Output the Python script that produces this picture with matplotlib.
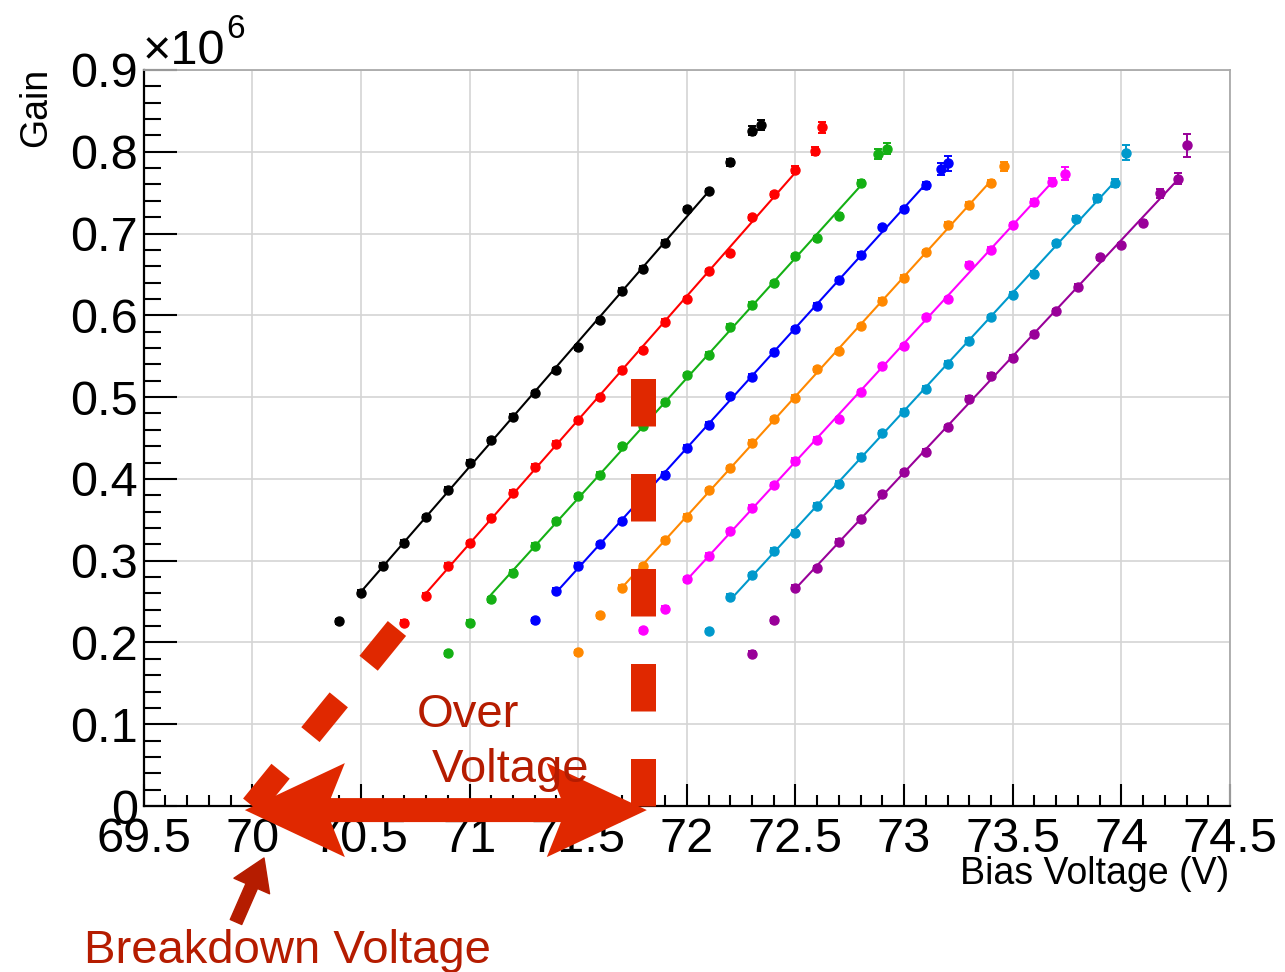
import numpy as np
import matplotlib
matplotlib.use('Agg')
import matplotlib.pyplot as plt
from matplotlib.patches import Polygon
from matplotlib.transforms import IdentityTransform

plt.rcParams['font.family'] = ['Liberation Sans', 'DejaVu Sans']

# gain (x10^6) vs bias voltage for the 8 channels
v_black = [70.4, 70.5, 70.6, 70.7, 70.8, 70.9, 71.0, 71.1, 71.2, 71.3, 71.4, 71.5, 71.6, 71.7, 71.8, 71.9, 72.0, 72.1, 72.2, 72.3, 72.34]
g_black = [0.226, 0.261, 0.294, 0.322, 0.353, 0.387, 0.420, 0.447, 0.476, 0.505, 0.533, 0.561, 0.594, 0.630, 0.657, 0.689, 0.730, 0.752, 0.787, 0.826, 0.833]

v_red = [70.7, 70.8, 70.9, 71.0, 71.1, 71.2, 71.3, 71.4, 71.5, 71.6, 71.7, 71.8, 71.9, 72.0, 72.1, 72.2, 72.3, 72.4, 72.5, 72.59, 72.62]
g_red = [0.224, 0.257, 0.294, 0.321, 0.352, 0.383, 0.415, 0.443, 0.472, 0.500, 0.533, 0.557, 0.592, 0.620, 0.654, 0.676, 0.720, 0.748, 0.778, 0.801, 0.830]

v_green = [70.9, 71.0, 71.1, 71.2, 71.3, 71.4, 71.5, 71.6, 71.7, 71.8, 71.9, 72.0, 72.1, 72.2, 72.3, 72.4, 72.5, 72.6, 72.7, 72.8, 72.88, 72.92]
g_green = [0.187, 0.224, 0.253, 0.285, 0.318, 0.348, 0.379, 0.405, 0.440, 0.465, 0.494, 0.527, 0.552, 0.586, 0.613, 0.639, 0.672, 0.694, 0.722, 0.762, 0.797, 0.804]

v_blue = [71.3, 71.4, 71.5, 71.6, 71.7, 71.8, 71.9, 72.0, 72.1, 72.2, 72.3, 72.4, 72.5, 72.6, 72.7, 72.8, 72.9, 73.0, 73.1, 73.17, 73.2]
g_blue = [0.227, 0.263, 0.294, 0.320, 0.348, 0.377, 0.405, 0.438, 0.466, 0.501, 0.525, 0.555, 0.583, 0.612, 0.643, 0.674, 0.708, 0.730, 0.759, 0.779, 0.786]

v_orange = [71.5, 71.6, 71.7, 71.8, 71.9, 72.0, 72.1, 72.2, 72.3, 72.4, 72.5, 72.6, 72.7, 72.8, 72.9, 73.0, 73.1, 73.2, 73.3, 73.4, 73.46]
g_orange = [0.188, 0.233, 0.267, 0.293, 0.325, 0.354, 0.386, 0.413, 0.444, 0.473, 0.499, 0.534, 0.556, 0.587, 0.618, 0.646, 0.677, 0.711, 0.735, 0.762, 0.782]

v_magenta = [71.8, 71.9, 72.0, 72.1, 72.2, 72.3, 72.4, 72.5, 72.6, 72.7, 72.8, 72.9, 73.0, 73.1, 73.2, 73.3, 73.4, 73.5, 73.6, 73.68, 73.74]
g_magenta = [0.215, 0.241, 0.277, 0.306, 0.336, 0.365, 0.392, 0.422, 0.448, 0.473, 0.506, 0.538, 0.562, 0.598, 0.620, 0.662, 0.680, 0.710, 0.738, 0.763, 0.773]

v_azure = [72.1, 72.2, 72.3, 72.4, 72.5, 72.6, 72.7, 72.8, 72.9, 73.0, 73.1, 73.2, 73.3, 73.4, 73.5, 73.6, 73.7, 73.79, 73.89, 73.97, 74.02]
g_azure = [0.214, 0.256, 0.282, 0.312, 0.334, 0.367, 0.394, 0.427, 0.456, 0.482, 0.510, 0.541, 0.569, 0.598, 0.625, 0.651, 0.688, 0.718, 0.743, 0.762, 0.799]

v_purple = [72.3, 72.4, 72.5, 72.6, 72.7, 72.8, 72.9, 73.0, 73.1, 73.2, 73.3, 73.4, 73.5, 73.6, 73.7, 73.8, 73.9, 74.0, 74.1, 74.18, 74.26, 74.3]
g_purple = [0.186, 0.227, 0.267, 0.291, 0.323, 0.351, 0.381, 0.408, 0.433, 0.463, 0.498, 0.526, 0.548, 0.577, 0.605, 0.635, 0.671, 0.686, 0.713, 0.749, 0.767, 0.808]

# errors on the last (highest) points
tail_err_black = [0.004, 0.005, 0.006]
tail_err_red = [0.004, 0.005, 0.007]
tail_err_green = [0.004, 0.006, 0.007]
tail_err_blue = [0.004, 0.007, 0.009]
tail_err_orange = [0.004, 0.004, 0.006]
tail_err_magenta = [0.004, 0.005, 0.008]
tail_err_azure = [0.004, 0.005, 0.009]
tail_err_purple = [0.006, 0.007, 0.014]

# linear fit ranges (V)
fit_black = (70.5, 72.1)
fit_red = (70.8, 72.5)
fit_green = (71.1, 72.8)
fit_blue = (71.4, 73.1)
fit_orange = (71.7, 73.4)
fit_magenta = (72.0, 73.68)
fit_azure = (72.2, 73.97)
fit_purple = (72.5, 74.26)

series = [
    (v_black, g_black, tail_err_black, fit_black, '#000000'),
    (v_red, g_red, tail_err_red, fit_red, '#ff0000'),
    (v_green, g_green, tail_err_green, fit_green, '#14b014'),
    (v_blue, g_blue, tail_err_blue, fit_blue, '#0000ff'),
    (v_orange, g_orange, tail_err_orange, fit_orange, '#ff8800'),
    (v_magenta, g_magenta, tail_err_magenta, fit_magenta, '#ff00ff'),
    (v_azure, g_azure, tail_err_azure, fit_azure, '#0099cc'),
    (v_purple, g_purple, tail_err_purple, fit_purple, '#990099'),
]

W, H = 1285, 972
fig = plt.figure(figsize=(W / 100, H / 100), dpi=100)
ax = fig.add_axes([143.6 / W, 1 - 806 / H, (1230 - 143.6) / W, (806 - 70) / H])
ax.set_xlim(69.5, 74.5)
ax.set_ylim(0, 0.9)

for v, g, terr, fr, col in series:
    v = np.array(v)
    g = np.array(g)
    err = np.full(len(v), 0.003)
    err[-3:] = terr
    sel = (v >= fr[0] - 1e-6) & (v <= fr[1] + 1e-6)
    p = np.polyfit(v[sel], g[sel], 1)
    xx = np.array(fr)
    ax.plot(xx, np.polyval(p, xx), '-', color=col, lw=1.5, zorder=3)
    ax.errorbar(v, g, yerr=err, fmt='o', color=col, ms=6.5, mec=col,
                elinewidth=1.4, capsize=3.2, capthick=1.4, zorder=4)

# axes style
ax.grid(True, which='major', color='#d4d4d4', lw=1.2)
ax.set_axisbelow(True)
for s in ['left', 'bottom']:
    ax.spines[s].set_color('black')
    ax.spines[s].set_linewidth(1.6)
for s in ['top', 'right']:
    ax.spines[s].set_color('#aaaaaa')
    ax.spines[s].set_linewidth(1.3)

ax.set_xticks(np.arange(69.5, 74.51, 0.5))
ax.set_xticks(np.arange(69.5, 74.51, 0.1), minor=True)
ax.set_yticks(np.arange(0, 0.91, 0.1))
ax.set_yticks(np.arange(0, 0.901, 0.02), minor=True)
ax.set_xticklabels(['69.5', '70', '70.5', '71', '71.5', '72', '72.5', '73', '73.5', '74', '74.5'])
ax.set_yticklabels(['0', '0.1', '0.2', '0.3', '0.4', '0.5', '0.6', '0.7', '0.8', '0.9'])
ax.tick_params(axis='x', which='major', direction='in', length=16, width=1.5, labelsize=35, pad=8)
ax.tick_params(axis='x', which='minor', direction='in', length=8, width=1.5)
ax.tick_params(axis='y', which='major', direction='in', length=24, width=1.5, labelsize=35, pad=4)
ax.tick_params(axis='y', which='minor', direction='in', length=12, width=1.5)

fig.text(1229 / W, 1 - 884 / H, 'Bias Voltage (V)', fontsize=27, ha='right', va='baseline')
fig.text(18 / W, 1 - 68 / H, 'Gain', fontsize=27, rotation=90, ha='left', va='top')
fig.text(143 / W, 1 - 64 / H, '\u00d710', fontsize=35, ha='left', va='baseline')
fig.text(226 / W, 1 - 38 / H, '6', fontsize=24, ha='left', va='baseline')

# breakdown / over-voltage markup
red = '#e02800'
dark = '#b51c00'
v_bd = 70.0
v_op = 71.8

ax.plot([v_bd, 70.675], [0.0, 0.22], color=red, lw=17, solid_capstyle='butt',
        dash_capstyle='butt', dashes=(1.9, 2.0), zorder=6, clip_on=False)
ax.plot([v_op, v_op], [0.0, 0.528], color=red, lw=18, dash_capstyle='butt',
        dashes=(1.9, 1.9), zorder=6, clip_on=False)

# double headed arrow between breakdown and operating voltage
fig.canvas.draw()
xl, yl = ax.transData.transform((v_bd - 0.034, -0.005))
xr, yr = ax.transData.transform((v_op + 0.016, -0.005))
hl, hw, notch, sw = 100, 47, 14, 12
pts = [(xl, yl), (xl + hl, yl + hw), (xl + hl - notch, yl + sw),
       (xr - hl + notch, yr + sw), (xr - hl, yr + hw), (xr, yr),
       (xr - hl, yr - hw), (xr - hl + notch, yr - sw),
       (xl + hl - notch, yl - sw), (xl + hl, yl - hw)]
arrow = Polygon(pts, closed=True, facecolor=red, edgecolor='none', zorder=7)
arrow.set_transform(IdentityTransform())
arrow.set_clip_on(False)
fig.add_artist(arrow)

fig.text(417 / W, 1 - 727 / H, 'Over', fontsize=34, color=dark, ha='left', va='baseline', zorder=8)
fig.text(432 / W, 1 - 782 / H, 'Voltage', fontsize=34, color=dark, ha='left', va='baseline', zorder=8)
fig.text(84 / W, 1 - 963 / H, 'Breakdown Voltage', fontsize=34, color=dark, ha='left', va='baseline')

ax.annotate('', xy=(264, H - 858), xycoords='figure pixels',
            xytext=(236, H - 922), textcoords='figure pixels',
            arrowprops=dict(arrowstyle='simple,head_length=1.1,head_width=1.4,tail_width=0.45',
                            color=dark, mutation_scale=20, shrinkA=0, shrinkB=0))

fig.savefig('out.png', dpi=100)
